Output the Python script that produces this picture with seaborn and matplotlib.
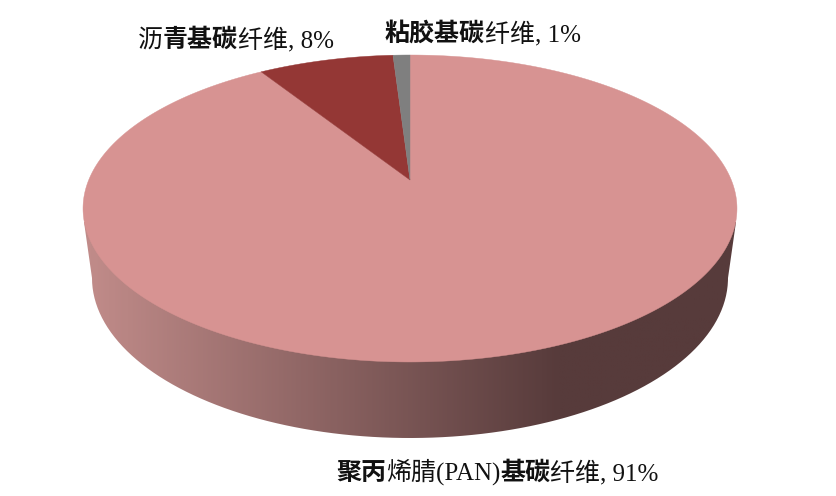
import numpy as np
import matplotlib
matplotlib.use("Agg")
import matplotlib.pyplot as plt
from matplotlib.colors import LinearSegmentedColormap
from matplotlib.patches import Polygon
from matplotlib.path import Path
import seaborn as sns

categories = ["聚丙烯腈(PAN)基碳纤维", "沥青基碳纤维", "粘胶基碳纤维"]
shares = [91, 8, 1]
colors = ["#D79392", "#943735", "#7F7F7F"]
side_colors = ["#C08B89", "#573B3B"]

sns.set_theme(style="white")
plt.rcParams["font.family"] = ["Liberation Serif", "Noto Sans CJK SC"]
plt.rcParams["font.size"] = 18

fig = plt.figure(figsize=(8.36, 4.96), dpi=100, facecolor="white")
ax = fig.add_axes([0, 0, 1, 1])

# the pie gives the slice angles; the view tilts them with a perspective map
wedges, _ = ax.pie(shares, startangle=90, counterclock=False,
                   colors=sns.color_palette(colors))
angles = [(w.theta1, w.theta2) for w in wedges]
for w in wedges:
    w.remove()
ax.set_aspect("auto")
ax.set_xlim(0, 836)
ax.set_ylim(496, 0)
ax.axis("off")

CX, CY, A, B, K = 410, 180, 321.3, 148.2, 0.1856


def project(deg):
    t = np.radians(deg)
    d = 1 + K * np.sin(t)
    return np.column_stack([CX + A * np.cos(t) / d, CY - B * np.sin(t) / d])


# side wall: gradient image clipped to the silhouette
t = np.linspace(np.pi, 2 * np.pi, 200)
bottom = np.column_stack([410 + 318 * np.cos(t), 278 - 160 * np.sin(t)])
outline = np.vstack([[[84, 222]], bottom, [[736, 222]], [[410, 222]]])
cmap = LinearSegmentedColormap.from_list("side", side_colors)
grad = np.clip((np.linspace(84, 736, 400) - 90) / (560 - 90), 0, 1)[None, :]
im = ax.imshow(grad, cmap=cmap, vmin=0, vmax=1, aspect="auto",
               extent=(84, 736, 440, 200), zorder=1)
im.set_clip_path(Path(outline), transform=ax.transData)
ax.set_xlim(0, 836)
ax.set_ylim(496, 0)

# top face
for (t1, t2), c in zip(angles, colors):
    arc = project(np.linspace(t1, t2, max(int(abs(t2 - t1) * 2), 8)))
    ax.add_patch(Polygon(np.vstack([[[CX, CY]], arc]), closed=True,
                         facecolor=c, edgecolor=c, linewidth=0.3, zorder=2))


def label(x, y, pieces):
    r = fig.canvas.get_renderer()
    for s, weight in pieces:
        txt = ax.text(x, y, s, fontweight=weight, color="#111111",
                      ha="left", va="baseline", zorder=3)
        x = ax.transData.inverted().transform(
            (txt.get_window_extent(r).x1, 0))[0]


label(138, 47, [("沥", "normal"), ("青基碳", "bold"), ("纤维, 8%", "normal")])
label(385, 41, [("粘胶基碳", "bold"), ("纤维, 1%", "normal")])
label(336, 480, [("聚丙", "bold"), ("烯腈(PAN)", "normal"), ("基碳", "bold"),
                 ("纤维, 91%", "normal")])

fig.savefig("out.png", dpi=100)
